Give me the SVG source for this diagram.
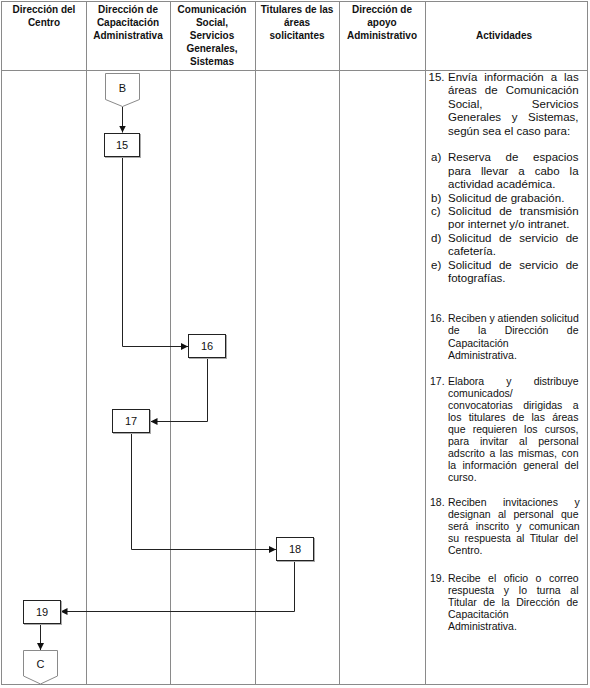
<svg xmlns="http://www.w3.org/2000/svg" width="590" height="688" viewBox="0 0 590 688">
<defs>
<marker id="arr" viewBox="0 0 10 10" refX="10" refY="5" markerWidth="7" markerHeight="7" markerUnits="userSpaceOnUse" orient="auto">
<path d="M0,0 L10,5 L0,10 z" fill="#111"/>
</marker>
<style>
.grid{stroke:#8a8a8a;stroke-width:1;fill:none}
.hd{font-family:"Liberation Sans",Arial,sans-serif;font-size:10px;font-weight:bold;fill:#111;text-anchor:middle}
.tx{font-family:"Liberation Sans",Arial,sans-serif;font-size:10.5px;fill:#111}
.tl{font-family:"Liberation Sans",Arial,sans-serif;font-size:11.5px;fill:#111}
.box{fill:#fff;stroke:#222;stroke-width:1}
.shadow{fill:none;stroke:#aaa;stroke-width:1}
.pent{fill:#fff;stroke:#8a8a8a;stroke-width:1}
.lbl{font-family:"Liberation Sans",Arial,sans-serif;font-size:11px;fill:#111;text-anchor:middle}
.con{fill:none;stroke:#222;stroke-width:1;marker-end:url(#arr)}
</style>
</defs>
<rect width="590" height="688" fill="#fff"/>
<g id="table">
<rect class="grid" x="1.5" y="1.5" width="586" height="683"/>
<line class="grid" x1="1.5" y1="70.5" x2="587.5" y2="70.5"/>
<line class="grid" x1="86.5" y1="1.5" x2="86.5" y2="684.5"/>
<line class="grid" x1="170.5" y1="1.5" x2="170.5" y2="684.5"/>
<line class="grid" x1="255.5" y1="1.5" x2="255.5" y2="684.5"/>
<line class="grid" x1="339.5" y1="1.5" x2="339.5" y2="684.5"/>
<line class="grid" x1="425.5" y1="1.5" x2="425.5" y2="684.5"/>
</g>
<g id="headers">
<text class="hd" x="44" y="13">Dirección del</text>
<text class="hd" x="44" y="26">Centro</text>
<text class="hd" x="128" y="13">Dirección de</text>
<text class="hd" x="128" y="26">Capacitación</text>
<text class="hd" x="128" y="39">Administrativa</text>
<text class="hd" x="212" y="13">Comunicación</text>
<text class="hd" x="212" y="26">Social,</text>
<text class="hd" x="212" y="39">Servicios</text>
<text class="hd" x="212" y="52">Generales,</text>
<text class="hd" x="212" y="65">Sistemas</text>
<text class="hd" x="297" y="13">Titulares de las</text>
<text class="hd" x="297" y="26">áreas</text>
<text class="hd" x="297" y="39">solicitantes</text>
<text class="hd" x="382" y="13">Dirección de</text>
<text class="hd" x="382" y="26">apoyo</text>
<text class="hd" x="382" y="39">Administrativo</text>
<text class="hd" x="504" y="39">Actividades</text>
</g>
<g id="activities">
<text class="tl" x="428.5" y="81">15.</text>
<text class="tl" x="448" y="81" word-spacing="3.7">Envía información a las</text>
<text class="tl" x="448" y="94.4" word-spacing="4.9">áreas de Comunicación</text>
<text class="tl" x="448" y="107.8">Social,</text>
<text class="tl" x="578.5" y="107.8" text-anchor="end">Servicios</text>
<text class="tl" x="448" y="121.2" word-spacing="7.4">Generales y Sistemas,</text>
<text class="tl" x="448" y="134.6">según sea el caso para:</text>
<text class="tl" x="431" y="161.4">a)</text>
<text class="tl" x="448" y="161.4" word-spacing="11.55">Reserva de espacios</text>
<text class="tl" x="448" y="174.8" word-spacing="6.74">para llevar a cabo la</text>
<text class="tl" x="448" y="188.2">actividad académica.</text>
<text class="tl" x="431" y="201.6">b)</text>
<text class="tl" x="448" y="201.6">Solicitud de grabación.</text>
<text class="tl" x="431" y="215">c)</text>
<text class="tl" x="448" y="215" word-spacing="4.55">Solicitud de transmisión</text>
<text class="tl" x="448" y="228.4">por internet y/o intranet.</text>
<text class="tl" x="431" y="241.8">d)</text>
<text class="tl" x="448" y="241.8" word-spacing="4.3">Solicitud de servicio de</text>
<text class="tl" x="448" y="255.2">cafetería.</text>
<text class="tl" x="431" y="268.6">e)</text>
<text class="tl" x="448" y="268.6" word-spacing="4.3">Solicitud de servicio de</text>
<text class="tl" x="448" y="282">fotografías.</text>

<text class="tx" x="430" y="322">16.</text>
<text class="tx" x="448" y="322">Reciben y atienden solicitud</text>
<text class="tx" x="448" y="334.4" word-spacing="15.5">de la Dirección de</text>
<text class="tx" x="448" y="346.8">Capacitación</text>
<text class="tx" x="448" y="359.2">Administrativa.</text>

<text class="tx" x="430" y="385">17.</text>
<text class="tx" x="448" y="385" word-spacing="19.2">Elabora y distribuye</text>
<text class="tx" x="448" y="397">comunicados/</text>
<text class="tx" x="448" y="409" word-spacing="7.5">convocatorias dirigidas a</text>
<text class="tx" x="448" y="421" word-spacing="4.3">los titulares de las áreas</text>
<text class="tx" x="448" y="433" word-spacing="4.2">que requieren los cursos,</text>
<text class="tx" x="448" y="445" word-spacing="8.1">para invitar al personal</text>
<text class="tx" x="448" y="457" word-spacing="1.7">adscrito a las mismas, con</text>
<text class="tx" x="448" y="469" word-spacing="3.45">la información general del</text>
<text class="tx" x="448" y="481">curso.</text>

<text class="tx" x="430" y="506">18.</text>
<text class="tx" x="448" y="506" word-spacing="13.6">Reciben invitaciones y</text>
<text class="tx" x="448" y="518" word-spacing="4.4">designan al personal que</text>
<text class="tx" x="448" y="530" word-spacing="4.4">será inscrito y comunican</text>
<text class="tx" x="448" y="542" word-spacing="2.6">su respuesta al Titular del</text>
<text class="tx" x="448" y="554">Centro.</text>

<text class="tx" x="430" y="582">19.</text>
<text class="tx" x="448" y="582" word-spacing="4.5">Recibe el oficio o correo</text>
<text class="tx" x="448" y="594" word-spacing="6.8">respuesta y lo turna al</text>
<text class="tx" x="448" y="606" word-spacing="3.6">Titular de la Dirección de</text>
<text class="tx" x="448" y="618">Capacitación</text>
<text class="tx" x="448" y="630">Administrativa.</text>
</g>
<g id="connectors">
<path class="con" d="M122.5,106.5 L122.5,132.5"/>
<path class="con" d="M122.5,156.5 L122.5,346.5 L188,346.5"/>
<path class="con" d="M207.5,358.5 L207.5,421.5 L150.5,421.5"/>
<path class="con" d="M131.5,433.5 L131.5,549.5 L276,549.5"/>
<path class="con" d="M294.5,561.5 L294.5,611.5 L60.5,611.5"/>
<path class="con" d="M40.5,623.5 L40.5,650"/>
</g>
<g id="node-B">
<polygon class="pent" points="105.5,73.5 139.5,73.5 139.5,99.5 122.5,106.5 105.5,99.5"/>
<text class="lbl" x="122.5" y="92">B</text>
</g>
<g id="node-15">
<rect class="shadow" x="105.5" y="134.5" width="35" height="23"/>
<rect class="box" x="104.5" y="133.5" width="35" height="23"/>
<text class="lbl" x="122" y="149">15</text>
</g>
<g id="node-16">
<rect class="shadow" x="189.5" y="335.5" width="37" height="23"/>
<rect class="box" x="188.5" y="334.5" width="37" height="23"/>
<text class="lbl" x="207" y="350">16</text>
</g>
<g id="node-17">
<rect class="shadow" x="113.5" y="410.5" width="37" height="23"/>
<rect class="box" x="112.5" y="409.5" width="37" height="23"/>
<text class="lbl" x="131" y="425">17</text>
</g>
<g id="node-18">
<rect class="shadow" x="277.5" y="538.5" width="37" height="23"/>
<rect class="box" x="276.5" y="537.5" width="37" height="23"/>
<text class="lbl" x="295" y="553">18</text>
</g>
<g id="node-19">
<rect class="shadow" x="24.5" y="601.5" width="37" height="23"/>
<rect class="box" x="23.5" y="600.5" width="37" height="23"/>
<text class="lbl" x="42" y="616">19</text>
</g>
<g id="node-C">
<polygon class="pent" points="23.5,650.5 57.5,650.5 57.5,676 40.5,684 23.5,676"/>
<text class="lbl" x="40.5" y="668">C</text>
</g>
</svg>
